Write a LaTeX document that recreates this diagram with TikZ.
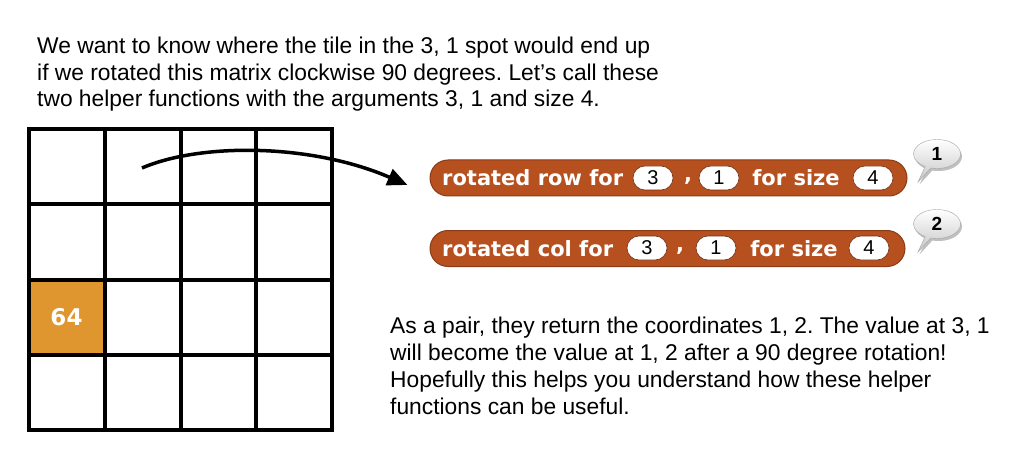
\documentclass[tikz,border=0pt]{standalone}
\usepackage{fontspec}
\setmainfont{Liberation Sans}
\newfontfamily\blockfont{DejaVu Sans}
\usepackage{tikz}
\usetikzlibrary{shapes,shapes.callouts,arrows.meta,positioning,shadows}
\frenchspacing

\definecolor{blockred}{RGB}{183,80,31}
\definecolor{tileorange}{RGB}{224,150,47}

\tikzset{
    blockbody/.style={rectangle, rounded corners=18pt, fill=blockred, draw=blockred!75!black, line width=1pt, minimum height=36pt, inner sep=0pt},
    blocklabel/.style={text=white, font={\blockfont\bfseries\fontsize{21}{24}\selectfont}, inner sep=0pt},
    slot/.style={rectangle, rounded corners=12pt, fill=white, draw=blockred!60!black, line width=0.6pt, minimum width=40pt, minimum height=24pt, inner sep=0pt, font={\fontsize{20}{22}\selectfont}},
    bubble/.style={ellipse callout, draw=gray!70, top color=white, bottom color=gray!45, minimum width=47pt, minimum height=29pt, inner sep=0pt, font={\bfseries\fontsize{19}{22}\selectfont}, drop shadow={opacity=0.5, shadow xshift=1.5pt, shadow yshift=-2.5pt}},
    prose/.style={align=left, font={\fontsize{22.8}{26.7}\selectfont}, inner sep=0pt},
    gridline/.style={line width=4pt, line cap=rect},
    flowarrow/.style={line width=3.5pt, -{Triangle[length=20pt,width=17pt]}}
}

\begin{document}
\begin{tikzpicture}[x=1pt, y=-1pt]
    \fill[white] (0,0) rectangle (1025,465);
    \useasboundingbox (0,0) rectangle (1025,465);

    % Text
    \node[prose, anchor=base west] (intro) at (37,107) {We want to know where the tile in the 3, 1 spot would end up\\if we rotated this matrix clockwise 90 degrees. Let's call these\\two helper functions with the arguments 3, 1 and size 4.};
    \node[prose, anchor=base west] (outro) at (390,414) {As a pair, they return the coordinates 1, 2. The value at 3, 1\\will become the value at 1, 2 after a 90 degree rotation!\\Hopefully this helps you understand how these helper\\functions can be useful.};

    % Matrix
    \node[fill=tileorange, minimum size=75pt, inner sep=0pt, text=white, font={\blockfont\bfseries\fontsize{23}{26}\selectfont}] (tile) at (66.5,317.5) {64};
    \foreach \i in {0,...,4} {
        \draw[gridline] ({29+75.75*\i},129) -- ({29+75.75*\i},430);
        \draw[gridline] (29,{129+75.25*\i}) -- (332,{129+75.25*\i});
    }

    % Blocks
    \node[blockbody, minimum width=477pt] (rowblk) at (668.5,178) {};
    \node[blocklabel, anchor=west] (rowlbl) at (442,178) {rotated row for};
    \node[slot] (rowr) at (653,178) {3};
    \node[blocklabel] (rowcm) at (688,181) {,};
    \node[slot] (rowc) at (719,178) {1};
    \node[blocklabel] (rowsz) at (796,178) {for size};
    \node[slot] (rown) at (873,178) {4};

    \node[blockbody, minimum width=475pt] (colblk) at (667.5,248.5) {};
    \node[blocklabel, anchor=west] (collbl) at (442,248.5) {rotated col for};
    \node[slot] (colr) at (647,248) {3};
    \node[blocklabel] (colcm) at (680,251) {,};
    \node[slot] (colc) at (716,248) {1};
    \node[blocklabel] (colsz) at (794,248.5) {for size};
    \node[slot] (coln) at (869,248) {4};

    % Results
    \node[bubble, callout absolute pointer={(918,182)}] (bubrow) at (937,154) {1};
    \node[bubble, callout absolute pointer={(918,252)}] (bubcol) at (937,224) {2};

    % Arrow
    \coordinate (from) at (142,168);
    \draw[flowarrow] (from) .. controls (200,143) and (310,143) .. ([shift={(-22,7)}]rowblk.west);
\end{tikzpicture}
\end{document}
